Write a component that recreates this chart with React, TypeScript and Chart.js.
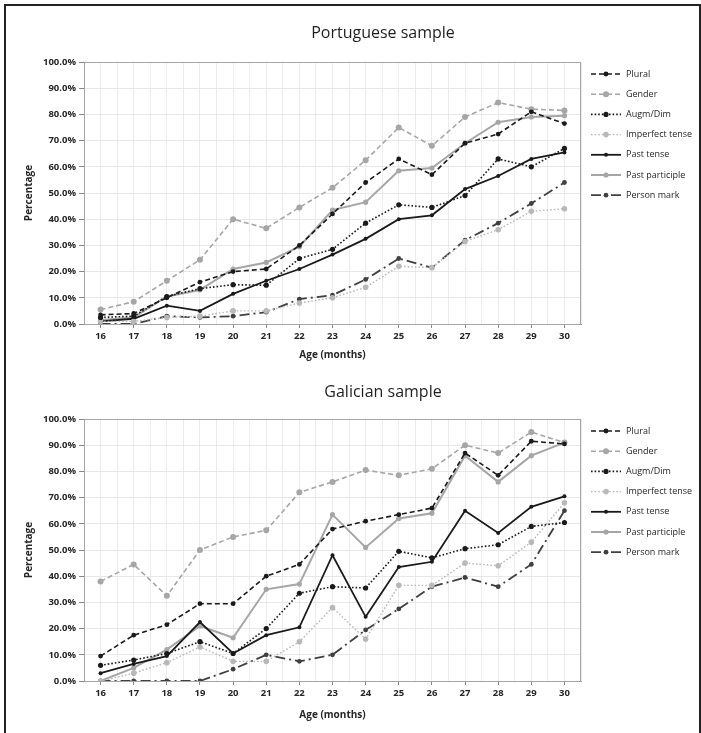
import React, { useEffect, useRef } from "react";
import { Chart, registerables } from "chart.js";
Chart.register(...registerables);

// ---------- DATA ----------
const ages = [16, 17, 18, 19, 20, 21, 22, 23, 24, 25, 26, 27, 28, 29, 30];
const seriesNames = ["Plural", "Gender", "Augm/Dim", "Imperfect tense", "Past tense", "Past participle", "Person mark"];

// Portuguese sample (%)
const ptPlural = [3.5, 4, 10, 16, 20, 21, 30, 42, 54, 63, 57, 69, 72.5, 81, 76.5];
const ptGender = [5.5, 8.5, 16.5, 24.5, 40, 36.5, 44.5, 52, 62.5, 75, 68, 79, 84.5, 82, 81.5];
const ptAugm = [2.5, 3, 10.5, 13.5, 15, 14.8, 25, 28.5, 38.5, 45.5, 44.5, 49, 63, 60, 67];
const ptImperfect = [1, 1, 2.5, 3, 5, 5, 8, 10, 14, 22, 21.5, 31.5, 36, 43, 44];
const ptPastTense = [1, 2, 7, 5, 11.5, 16.5, 21, 26.5, 32.5, 40, 41.5, 51.5, 56.5, 63, 65.5];
const ptPastPart = [1.5, 2.5, 10.5, 13, 21, 23.5, 29.5, 43.5, 46.5, 58.5, 59.5, 69, 77, 79, 79.5];
const ptPerson = [0, 0, 3, 2.5, 3, 4.5, 9.5, 11, 17, 25, 21.5, 32, 38.5, 46, 54];

// Galician sample (%)
const glPlural = [9.5, 17.5, 21.5, 29.5, 29.5, 40, 44.5, 58, 61, 63.5, 66, 87, 78.5, 91.5, 90.5];
const glGender = [38, 44.5, 32.5, 50, 55, 57.5, 72, 76, 80.5, 78.5, 81, 90, 87, 95, 91];
const glAugm = [6, 8, 10.5, 15, 10.5, 20, 33.5, 36, 35.5, 49.5, 47, 50.5, 52, 59, 60.5];
const glImperfect = [0, 3, 7, 13, 7.5, 7.5, 15, 28, 16, 36.5, 36.5, 45, 44, 53, 68];
const glPastTense = [3, 6.5, 9.5, 22.5, 10.5, 17.5, 20.5, 48, 24.5, 43.5, 45.5, 65, 56.5, 66.5, 70.5];
const glPastPart = [0, 5, 12, 21, 16.5, 35, 37, 63.5, 51, 62, 64, 86, 76, 86, 91];
const glPerson = [0, 0, 0, 0, 4.5, 10, 7.5, 10, 19.5, 27.5, 36, 39.5, 36, 44.5, 65];

const ptSeries = [ptPlural, ptGender, ptAugm, ptImperfect, ptPastTense, ptPastPart, ptPerson];
const glSeries = [glPlural, glGender, glAugm, glImperfect, glPastTense, glPastPart, glPerson];

const yMin = 0;
const yMax = 100;
const yStep = 10;

// ---------- STYLES ----------
const styles = [
  { color: "#1a1a1a", dash: [5, 3], width: 1.6, r: 2.4 },
  { color: "#a6a6a6", dash: [5, 3], width: 1.6, r: 3 },
  { color: "#1a1a1a", dash: [1.6, 2], width: 1.6, r: 2.6 },
  { color: "#b8b8b8", dash: [1.6, 2], width: 1.4, r: 2.8 },
  { color: "#1a1a1a", dash: [], width: 1.8, r: 2 },
  { color: "#a6a6a6", dash: [], width: 2, r: 2.6 },
  { color: "#404040", dash: [10, 4, 2, 4], width: 1.8, r: 2.4 },
];

const FONT = "'Open Sans', 'Noto Sans', sans-serif";
const TEXT = "#262626";

const plotBorder = {
  id: "plotBorder",
  beforeDatasetsDraw(chart: any) {
    const { ctx, chartArea: a } = chart;
    ctx.save();
    ctx.strokeStyle = "#a6a6a6";
    ctx.lineWidth = 1;
    ctx.strokeRect(a.left + 0.5, a.top + 0.5, a.right - a.left - 1, a.bottom - a.top);
    ctx.restore();
  },
};

const sideLegend = {
  id: "sideLegend",
  afterDraw(chart: any) {
    const { ctx, chartArea: a } = chart;
    ctx.save();
    chart.data.datasets.forEach((ds: any, i: number) => {
      const y = a.top + 12 + i * 20.2;
      const x0 = a.right + 10;
      const x1 = x0 + 30;
      ctx.beginPath();
      ctx.setLineDash(ds.borderDash || []);
      ctx.strokeStyle = ds.borderColor;
      ctx.lineWidth = ds.borderWidth;
      ctx.moveTo(x0, y);
      ctx.lineTo(x1, y);
      ctx.stroke();
      ctx.setLineDash([]);
      ctx.beginPath();
      ctx.fillStyle = ds.pointBackgroundColor;
      ctx.arc((x0 + x1) / 2, y, ds.pointRadius, 0, Math.PI * 2);
      ctx.fill();
      ctx.fillStyle = TEXT;
      ctx.font = `9px ${FONT}`;
      ctx.textBaseline = "middle";
      ctx.textAlign = "left";
      ctx.fillText(ds.label, x1 + 5, y);
    });
    ctx.restore();
  },
};

function Panel(props: { series: number[][]; width: number; height: number; padTop: number; padBottom: number; xHeight: number }) {
  const ref = useRef<HTMLCanvasElement | null>(null);
  useEffect(() => {
    if (!ref.current) return;
    const chart = new Chart(ref.current, {
      type: "line",
      data: {
        datasets: props.series.map((vals, i) => ({
          label: seriesNames[i],
          data: ages.map((a, j) => ({ x: a, y: vals[j] })),
          borderColor: styles[i].color,
          backgroundColor: styles[i].color,
          borderDash: styles[i].dash,
          borderWidth: styles[i].width,
          pointRadius: styles[i].r,
          pointBackgroundColor: styles[i].color,
          pointBorderWidth: 0,
          pointHoverRadius: styles[i].r,
          tension: 0,
          fill: false,
        })),
      },
      options: {
        animation: false,
        responsive: false,
        events: [],
        layout: { padding: { left: 14, right: 115, top: props.padTop, bottom: props.padBottom } },
        plugins: { legend: { display: false }, title: { display: false }, tooltip: { enabled: false } },
        scales: {
          x: {
            type: "linear",
            min: ages[0] - 0.5,
            max: ages[ages.length - 1] + 0.5,
            afterFit: (s: any) => { s.height = props.xHeight; },
            ticks: {
              stepSize: 0.5,
              autoSkip: false,
              maxRotation: 0,
              padding: 3,
              color: TEXT,
              font: { family: FONT, size: 9.5, weight: "bold" },
              callback: (v: any) => (Number.isInteger(v) ? String(v) : ""),
            },
            grid: {
              color: "#ececec",
              tickLength: 4,
              tickColor: (c: any) => (c.tick && Number.isInteger(c.tick.value) ? "#888888" : "rgba(0,0,0,0)"),
            },
            border: { color: "#8c8c8c" },
            title: { display: true, text: "Age (months)", color: TEXT, padding: { top: 2, bottom: 2 }, font: { family: FONT, size: 10, weight: "bold" } },
          },
          y: {
            min: yMin,
            max: yMax,
            afterFit: (s: any) => { s.width = 64; },
            ticks: {
              stepSize: yStep,
              padding: 3,
              color: TEXT,
              font: { family: FONT, size: 9.5, weight: "bold" },
              callback: (v: any) => Number(v).toFixed(1) + "%",
            },
            grid: { color: "#e8e8e8", tickLength: 5, tickColor: "#888888" },
            border: { color: "#8c8c8c" },
            title: { display: true, text: "Percentage", color: TEXT, padding: { top: 3, bottom: 3 }, font: { family: FONT, size: 10, weight: "bold" } },
          },
        },
      },
      plugins: [plotBorder, sideLegend],
    } as any);
    return () => chart.destroy();
  }, []);
  return <canvas ref={ref} width={props.width} height={props.height} style={{ display: "block", width: props.width, height: props.height }} />;
}

const titleStyle: React.CSSProperties = {
  position: "absolute",
  left: 177,
  width: 400,
  textAlign: "center",
  fontFamily: FONT,
  fontSize: 16,
  lineHeight: "20px",
  color: "#1f1f1f",
};

export default function App() {
  return (
    <div
      style={{
        position: "absolute",
        left: 4,
        top: 4,
        width: 697,
        height: 745,
        border: "2px solid #222",
        boxSizing: "border-box",
        background: "#fff",
        overflow: "hidden",
      }}
    >
      <div style={{ position: "absolute", left: 0, top: 0 }}>
        <Panel series={ptSeries} width={690} height={360} padTop={56} padBottom={3} xHeight={39} />
      </div>
      <div style={{ position: "absolute", left: 0, top: 360 }}>
        <Panel series={glSeries} width={690} height={367} padTop={53} padBottom={10} xHeight={42} />
      </div>
      <div style={{ ...titleStyle, top: 16 }}>Portuguese sample</div>
      <div style={{ ...titleStyle, top: 375 }}>Galician sample</div>
    </div>
  );
}
